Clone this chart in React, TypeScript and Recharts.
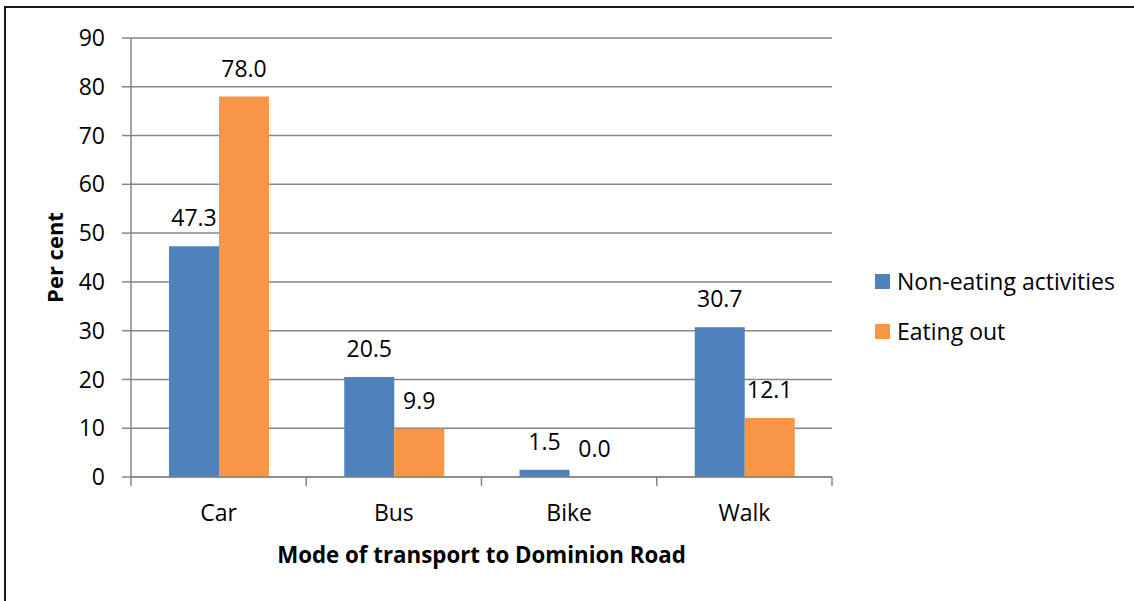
import React from 'react';
import { BarChart, Bar, XAxis, YAxis, CartesianGrid, LabelList } from 'recharts';

const categories = ['Car', 'Bus', 'Bike', 'Walk'];
const nonEating = [47.3, 20.5, 1.5, 30.7];
const eatingOut = [78.0, 9.9, 0.0, 12.1];
const yTicks = [0, 10, 20, 30, 40, 50, 60, 70, 80, 90];

const series = [
  { key: 'nonEating', name: 'Non-eating activities', color: '#4F81BD' },
  { key: 'eatingOut', name: 'Eating out', color: '#F79646' },
];

const data = categories.map((c, i) => ({
  mode: c,
  nonEating: nonEating[i],
  eatingOut: eatingOut[i],
}));

const W = 1134;
const H = 601;
const LEFT = 131;
const RIGHT = 302;
const PLOT_W = W - LEFT - RIGHT;
const HALF_BAND = PLOT_W / categories.length / 2;
const GREY = '#868686';
const FONT = '"Open Sans", sans-serif';
const TICK_SIZE = 9;
const X_TICK_MARGIN = 19;

// Excel style: tick marks sit between categories, label in the middle
const CategoryTick = (props: any) => {
  const { x, y, payload, index } = props;
  const axisY = y - X_TICK_MARGIN - TICK_SIZE;
  return (
    <g>
      <line x1={x - HALF_BAND} x2={x - HALF_BAND} y1={axisY} y2={axisY + TICK_SIZE} stroke={GREY} strokeWidth={1.5} />
      {index === categories.length - 1 && (
        <line x1={x + HALF_BAND} x2={x + HALF_BAND} y1={axisY} y2={axisY + TICK_SIZE} stroke={GREY} strokeWidth={1.5} />
      )}
      <text x={x} y={y} dy="0.7em" textAnchor="middle" fill="#000" fontSize={23}>
        {payload.value}
      </text>
    </g>
  );
};

export default function App() {
  return (
    <div style={{ position: 'absolute', left: 0, top: 0, width: W, height: H, background: '#fff', fontFamily: FONT }}>
      <div
        style={{
          position: 'absolute', left: 4, top: 6, right: 0, bottom: 0,
          borderLeft: '2px solid #1a1a1a', borderTop: '2px solid #1a1a1a',
        }}
      />
      <BarChart
        width={W}
        height={H}
        data={data}
        margin={{ top: 38, right: RIGHT, left: 0, bottom: 0 }}
        barGap={0}
        style={{ position: 'absolute', left: 0, top: 0 }}
      >
        <CartesianGrid vertical={false} stroke={GREY} strokeWidth={1.5} />
        <XAxis
          dataKey="mode"
          height={H - 477}
          stroke={GREY}
          strokeWidth={1.5}
          tickLine={false}
          tickSize={TICK_SIZE}
          tickMargin={X_TICK_MARGIN}
          tick={<CategoryTick />}
          interval={0}
          label={{
            value: 'Mode of transport to Dominion Road',
            position: 'insideBottom',
            offset: 38,
            fill: '#000',
            fontSize: 22.3,
            fontWeight: 'bold',
          }}
        />
        <YAxis
          width={LEFT}
          domain={[0, 90]}
          ticks={yTicks}
          interval={0}
          stroke={GREY}
          strokeWidth={1.5}
          tickSize={TICK_SIZE}
          tickMargin={17}
          tick={{ fill: '#000', fontSize: 23 }}
          label={{
            value: 'Per cent',
            angle: -90,
            position: 'center',
            dx: -10,
            fill: '#000',
            fontSize: 22,
            fontWeight: 'bold',
          }}
        />
        {series.map((s) => (
          <Bar
            key={s.key}
            dataKey={s.key}
            name={s.name}
            fill={s.color}
            barSize={50}
            minPointSize={0.001}
            isAnimationActive={false}
          >
            <LabelList
              dataKey={s.key}
              position="top"
              offset={20}
              fill="#000"
              fontSize={23}
              formatter={(v: any) => Number(v).toFixed(1)}
            />
          </Bar>
        ))}
      </BarChart>
      {series.map((s, i) => (
        <div
          key={s.key}
          style={{
            position: 'absolute', left: 875, top: 264 + i * 50, height: 34,
            display: 'flex', alignItems: 'center', fontSize: 23, color: '#000', whiteSpace: 'nowrap',
          }}
        >
          <span style={{ width: 15, height: 15, background: s.color, marginRight: 7, display: 'inline-block' }} />
          {s.name}
        </div>
      ))}
    </div>
  );
}
